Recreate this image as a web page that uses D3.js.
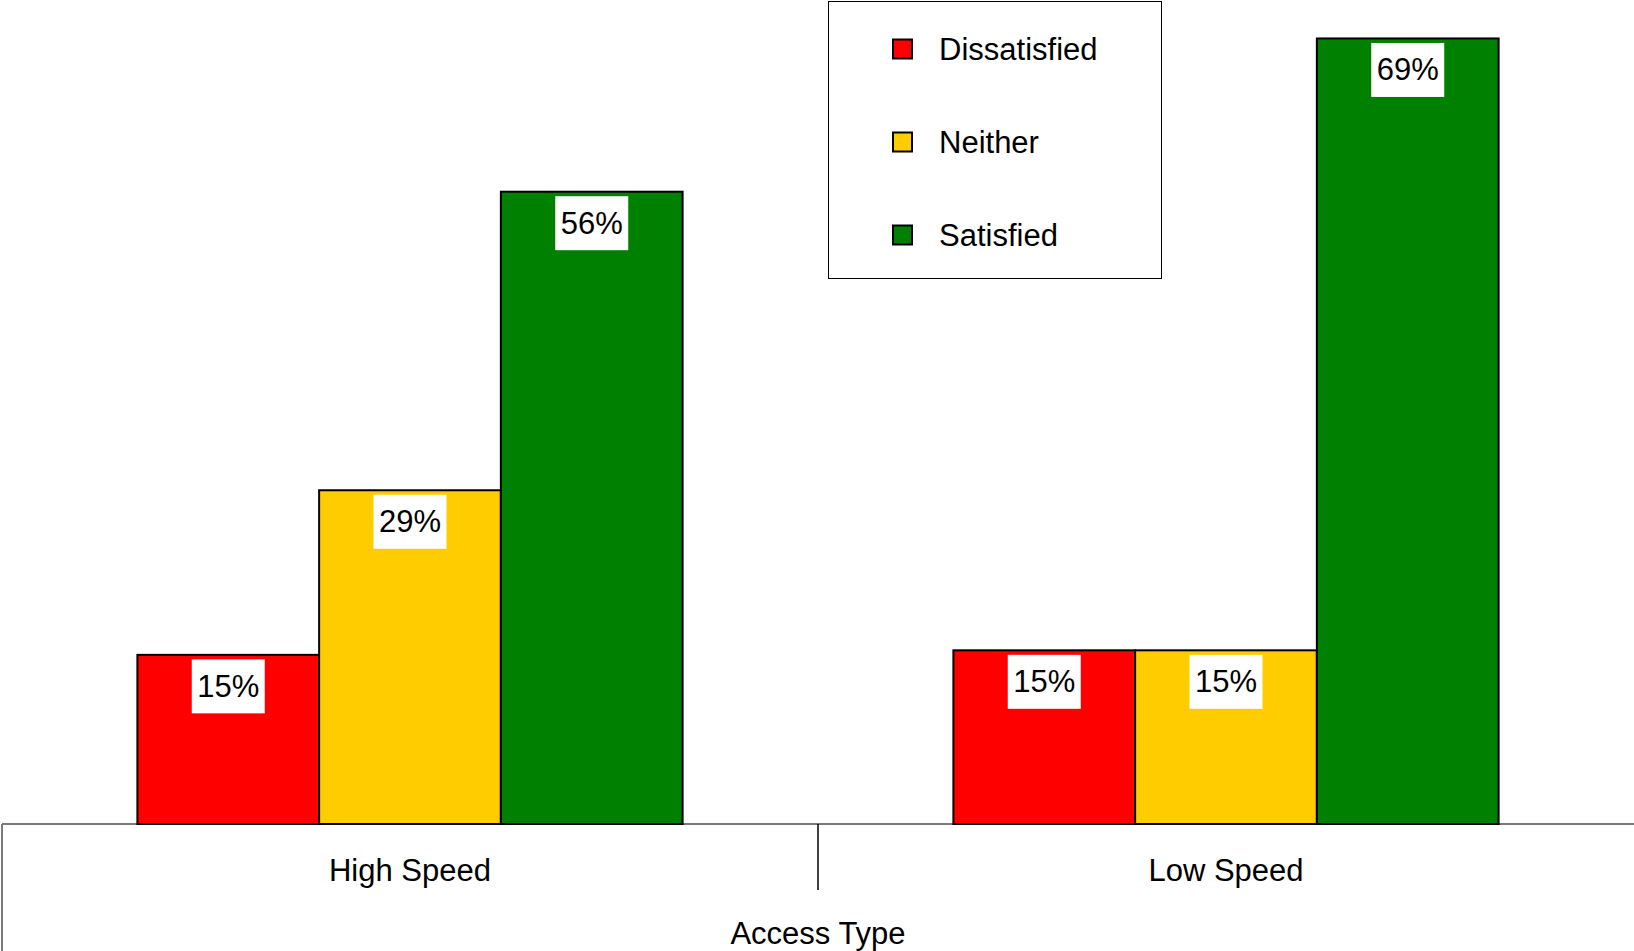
<!DOCTYPE html>
<html>
<head>
<meta charset="utf-8">
<script src="https://cdn.jsdelivr.net/npm/d3@7"></script>
<style>
  html, body { margin: 0; padding: 0; background: #fff; }
  svg { display: block; font-family: Arial, "Liberation Sans", Helvetica, sans-serif; }
</style>
</head>
<body>
<script>
const groups = ["High Speed", "Low Speed"];
const series = ["Dissatisfied", "Neither", "Satisfied"];
const colors = ["#FF0000", "#FFCC00", "#008000"];
const highSpeed = [14.9, 29.4, 55.7];
const lowSpeed = [15.3, 15.3, 69.2];
const highSpeedLabels = ["15%", "29%", "56%"];
const lowSpeedLabels = ["15%", "15%", "69%"];
const axisTitle = "Access Type";

const W = 1634, H = 951;
const baseY = 824;

const table = groups.map((g, gi) => ({
  group: g,
  values: series.map((s, si) => ({
    series: s,
    value: gi === 0 ? highSpeed[si] : lowSpeed[si],
    label: gi === 0 ? highSpeedLabels[si] : lowSpeedLabels[si],
    color: colors[si]
  }))
}));

const svg = d3.select("body").append("svg").attr("width", W).attr("height", H);

const x0 = d3.scaleBand().domain(groups).range([2, W]).paddingInner(0).paddingOuter(0);
const x1 = d3.scaleBand().domain(series).range([0, x0.bandwidth()]).paddingInner(0).paddingOuter(0.745);
const y = d3.scaleLinear().domain([0, 72.5]).range([baseY, 1]);

// axis line & frame
svg.append("line").attr("x1", 2).attr("x2", W).attr("y1", baseY).attr("y2", baseY)
  .attr("stroke", "#7a7a7a").attr("stroke-width", 2);
svg.append("line").attr("x1", 2).attr("x2", 2).attr("y1", baseY).attr("y2", H)
  .attr("stroke", "#7a7a7a").attr("stroke-width", 2);
svg.append("line").attr("x1", x0("Low Speed")).attr("x2", x0("Low Speed")).attr("y1", baseY).attr("y2", 890)
  .attr("stroke", "#000").attr("stroke-width", 1.5);

const g = svg.selectAll("g.grp").data(table).join("g")
  .attr("class", "grp")
  .attr("transform", d => `translate(${x0(d.group)},0)`);

g.selectAll("rect.bar").data(d => d.values).join("rect")
  .attr("class", "bar")
  .attr("x", d => x1(d.series))
  .attr("y", d => y(d.value))
  .attr("width", x1.bandwidth())
  .attr("height", d => baseY - y(d.value))
  .attr("fill", d => d.color)
  .attr("stroke", "#000")
  .attr("stroke-width", 2);

// value labels
const lab = g.selectAll("g.lab").data(d => d.values).join("g")
  .attr("class", "lab")
  .attr("transform", d => `translate(${x1(d.series) + x1.bandwidth() / 2},${y(d.value)})`);
lab.append("rect")
  .attr("x", -36.5).attr("y", 4.5).attr("width", 73).attr("height", 54)
  .attr("fill", "#fff");
lab.append("text")
  .attr("text-anchor", "middle").attr("y", 42)
  .attr("font-size", 31).attr("fill", "#000")
  .text(d => d.label);

// category labels
svg.selectAll("text.cat").data(groups).join("text")
  .attr("class", "cat")
  .attr("x", d => x0(d) + x0.bandwidth() / 2)
  .attr("y", 880.5)
  .attr("text-anchor", "middle").attr("font-size", 31)
  .text(d => d);

svg.append("text")
  .attr("x", (2 + W) / 2).attr("y", 943.5)
  .attr("text-anchor", "middle").attr("font-size", 31)
  .text(axisTitle);

// legend
const leg = svg.append("g");
leg.append("rect").attr("x", 828.5).attr("y", 1.5).attr("width", 333).attr("height", 277)
  .attr("fill", "#fff").attr("stroke", "#000").attr("stroke-width", 1);
const li = leg.selectAll("g.li").data(series).join("g")
  .attr("class", "li")
  .attr("transform", (d, i) => `translate(0,${49 + i * 93})`);
li.append("rect").attr("x", 893).attr("y", -9.5).attr("width", 19).attr("height", 19)
  .attr("fill", (d, i) => colors[i]).attr("stroke", "#000").attr("stroke-width", 2);
li.append("text").attr("x", 939).attr("y", 11).attr("font-size", 31).text(d => d);
</script>
</body>
</html>
